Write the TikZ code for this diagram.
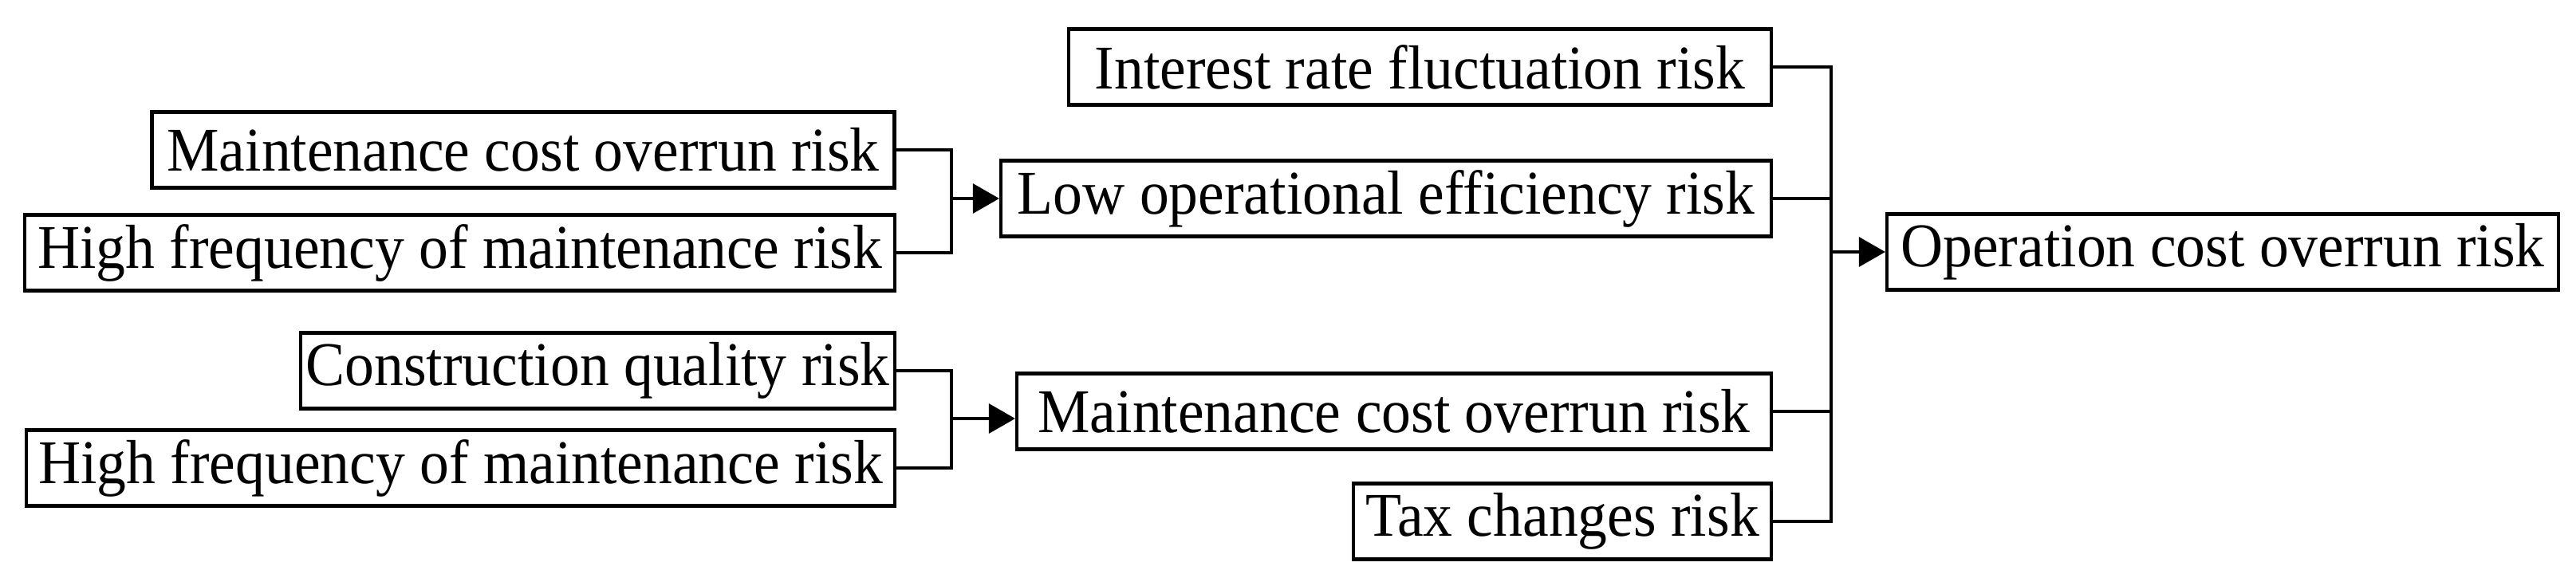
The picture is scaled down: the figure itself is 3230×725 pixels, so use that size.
\documentclass[tikz,border=0pt]{standalone}
\usepackage{fontspec}
\setmainfont{Liberation Serif}
\usetikzlibrary{arrows.meta}
\newcommand\stretchtxt[1]{\scalebox{1}[1.06]{#1}}
\begin{document}
\begin{tikzpicture}[x=0.25pt,y=-0.25pt,
  rbox/.style={draw=black, line width=1.05pt, inner sep=0pt, minimum height={95*0.25pt}, minimum width={#1*0.25pt}, font=\fontsize{18.4pt}{22pt}\selectfont},
  link/.style={draw=black, line width=0.85pt},
  arr/.style={link, -{Triangle[length=8.25pt,width=9.25pt]}}]
\useasboundingbox (0,0) rectangle (3230,725);
% left column
\node[rbox=931]  (m1)  at (656,188) {\stretchtxt{Maintenance cost overrun risk}};
\node[rbox=1091] (h1)  at (576.5,317) {\stretchtxt{High frequency of maintenance risk}};
\node[rbox=745]  (cq)  at (749.5,465) {\stretchtxt{Construction quality risk}};
\node[rbox=1089] (h2)  at (577.5,587) {\stretchtxt{High frequency of maintenance risk}};
% middle column
\node[rbox=881]  (irf) at (1780.5,84) {\stretchtxt{Interest rate fluctuation risk}};
\node[rbox=966]  (loe) at (1738,249) {\stretchtxt{Low operational efficiency risk}};
\node[rbox=946]  (mc2) at (1748,516) {\stretchtxt{Maintenance cost overrun risk}};
\node[rbox=524]  (tax) at (1959,654) {\stretchtxt{Tax changes risk}};
% right
\node[rbox=842]  (oc)  at (2787,316) {\stretchtxt{Operation cost overrun risk}};
% junctions
\coordinate (j1) at (1193,249);
\coordinate (j2) at (1193,525);
\coordinate (bus) at (2296,316);
\draw[link] (m1.east) -| (j1);
\draw[link] (h1.east) -| (j1);
\draw[arr] (j1) -- (loe.west);
\draw[link] (cq.east) -| (j2);
\draw[link] (h2.east) -| (j2);
\draw[arr] (j2) -- (j2 -| mc2.west);
\draw[link] (irf.east) -| (bus);
\draw[link] (tax.east) -| (bus);
\draw[link] (loe.east) -- (loe.east -| bus);
\draw[link] (mc2.east) -- (mc2.east -| bus);
\draw[arr] (bus) -- (oc.west);
\end{tikzpicture}
\end{document}
